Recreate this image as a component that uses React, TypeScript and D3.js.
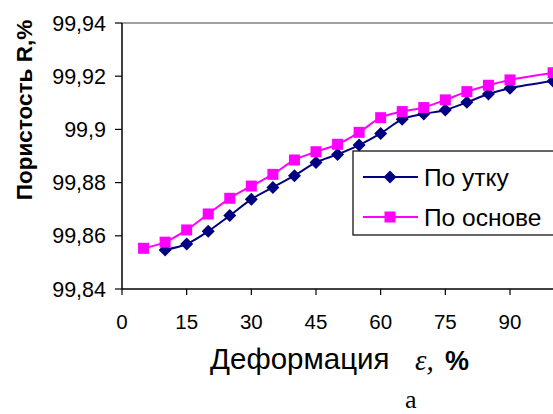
import React from "react";
import * as d3 from "d3";

const xOsnova = [5, 10, 15, 20, 25, 30, 35, 40, 45, 50, 55, 60, 65, 70, 75, 80, 85, 90, 100];
const yOsnova = [99.8553, 99.8576, 99.8622, 99.8682, 99.8741, 99.8787, 99.8831, 99.8885, 99.8916, 99.8944, 99.8989, 99.9044, 99.9067, 99.9082, 99.9111, 99.9142, 99.9166, 99.9186, 99.9213];
const xUtok = [10, 15, 20, 25, 30, 35, 40, 45, 50, 55, 60, 65, 70, 75, 80, 85, 90, 100];
const yUtok = [99.8547, 99.8569, 99.8617, 99.8676, 99.8737, 99.8782, 99.8826, 99.8876, 99.8906, 99.8941, 99.8985, 99.9038, 99.9058, 99.9073, 99.9102, 99.9133, 99.9155, 99.9182];
const xTicks = [0, 15, 30, 45, 60, 75, 90];
const yTicks = [99.84, 99.86, 99.88, 99.9, 99.92, 99.94];
const yTickLabels = ["99,84", "99,86", "99,88", "99,9", "99,92", "99,94"];
const seriesNames = ["По утку", "По основе"];

const W = 553;
const H = 414;
const SANS = "'Liberation Sans', Arial, sans-serif";
const SERIF = "'Liberation Serif', 'Times New Roman', serif";

export default function App() {
  const x = d3.scaleLinear().domain([0, 105]).range([122, 122 + 105 * 4.311]);
  const y = d3.scaleLinear().domain([99.84, 99.94]).range([289, 23]);
  const line = d3
    .line<[number, number]>()
    .x((d) => x(d[0]))
    .y((d) => y(d[1]))
    .curve(d3.curveCatmullRom.alpha(0.5));

  const osnova: [number, number][] = xOsnova.map((v, i) => [v, yOsnova[i]]);
  const utok: [number, number][] = xUtok.map((v, i) => [v, yUtok[i]]);
  const navy = "#000080";
  const pink = "#FF00FF";
  const diamond = (cx: number, cy: number, r: number) =>
    `M${cx},${cy - r}L${cx + r},${cy}L${cx},${cy + r}L${cx - r},${cy}Z`;

  const x0 = x(0);
  const xr = x(105);
  const yb = y(99.84);
  const yt = y(99.94);

  return (
    <svg
      width={W}
      height={H}
      style={{ position: "absolute", left: 0, top: 0, background: "#fff" }}
    >
      <rect x={0} y={0} width={W} height={H} fill="#fff" />
      {/* plot border top (grey) */}
      <line x1={x0} x2={xr} y1={yt} y2={yt} stroke="#808080" strokeWidth={1.5} />
      {/* axes */}
      <line x1={x0} x2={x0} y1={yt} y2={yb} stroke="#000" strokeWidth={1.5} />
      <line x1={x0} x2={xr} y1={yb} y2={yb} stroke="#000" strokeWidth={1.5} />
      <line x1={x(105)} x2={x(105)} y1={yb} y2={yb + 6} stroke="#000" strokeWidth={1.2} />
      {yTicks.map((t, i) => (
        <g key={"yt" + i}>
          <line x1={x0 - 7} x2={x0} y1={y(t)} y2={y(t)} stroke="#000" strokeWidth={1.2} />
          <text
            x={106}
            y={y(t) + 7.5}
            textAnchor="end"
            fontFamily={SANS}
            fontSize={21.5}
            fill="#000"
          >
            {yTickLabels[i]}
          </text>
        </g>
      ))}
      {xTicks.map((t, i) => (
        <g key={"xt" + i}>
          <line x1={x(t)} x2={x(t)} y1={yb} y2={yb + 6} stroke="#000" strokeWidth={1.2} />
          <text
            x={x(t)}
            y={328.5}
            textAnchor="middle"
            fontFamily={SANS}
            fontSize={20.5}
            fill="#000"
          >
            {String(t)}
          </text>
        </g>
      ))}
      {/* series */}
      <path d={line(utok) || ""} fill="none" stroke={navy} strokeWidth={2} />
      <path d={line(osnova) || ""} fill="none" stroke={pink} strokeWidth={2} />
      {utok.map((d, i) => (
        <path key={"u" + i} d={diamond(x(d[0]), y(d[1]), 6.5)} fill={navy} />
      ))}
      {osnova.map((d, i) => (
        <rect
          key={"o" + i}
          x={x(d[0]) - 5.5}
          y={y(d[1]) - 5.5}
          width={11}
          height={11}
          fill={pink}
        />
      ))}
      {/* legend */}
      <rect x={353} y={151} width={220} height={84} fill="#fff" stroke="#000" strokeWidth={1.2} />
      <line x1={363} x2={418} y1={177} y2={177} stroke={navy} strokeWidth={2} />
      <path d={diamond(390, 177, 6.5)} fill={navy} />
      <text x={424} y={185.5} fontFamily={SANS} fontSize={24.5} fill="#000">
        {seriesNames[0]}
      </text>
      <line x1={363} x2={418} y1={217} y2={217} stroke={pink} strokeWidth={2} />
      <rect x={384.5} y={211.5} width={11} height={11} fill={pink} />
      <text x={424} y={225.5} fontFamily={SANS} fontSize={24.5} fill="#000">
        {seriesNames[1]}
      </text>
      {/* y axis title */}
      <text
        transform="translate(32,110) rotate(-90)"
        textAnchor="middle"
        fontFamily={SANS}
        fontWeight="bold"
        fontSize={22.5}
        fill="#000"
      >
        Пористость R,%
      </text>
      {/* x axis title */}
      <text x={210} y={369} fontFamily={SANS} fontSize={29.5} fill="#000">
        Деформация
      </text>
      <text x={415} y={370} fontFamily={SERIF} fontStyle="italic" fontSize={29} fill="#000">
        ε,
      </text>
      <text x={445} y={370} fontFamily={SANS} fontWeight="bold" fontSize={27} fill="#000">
        %
      </text>
      <text x={405} y={408} fontFamily={SERIF} fontSize={26} fill="#000">
        a
      </text>
    </svg>
  );
}
